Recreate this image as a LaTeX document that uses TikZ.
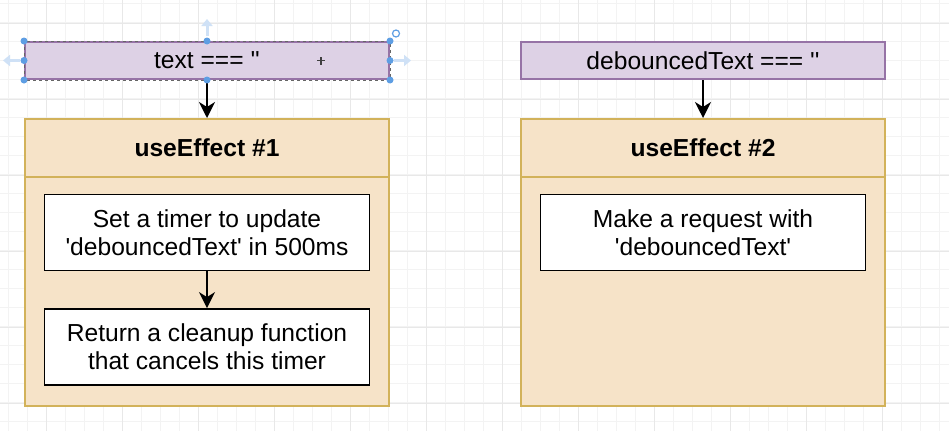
\documentclass[tikz,border=0pt]{standalone}
\usepackage{fontspec}
\setmainfont{Liberation Sans}
\usetikzlibrary{arrows.meta}
\definecolor{purfill}{HTML}{DDD1E5}
\definecolor{purline}{HTML}{9673A6}
\definecolor{tanfill}{HTML}{F6E3C8}
\definecolor{tanline}{HTML}{D2B25A}
\definecolor{gridminor}{HTML}{F3F3F3}
\definecolor{gridmajor}{HTML}{E8E8E8}
\definecolor{handle}{HTML}{5E9EE3}
\definecolor{handlelight}{HTML}{CFE1F6}
\tikzset{
  txt/.style={font=\fontsize{24.6}{28.3}\selectfont, align=center, text=black},
  condbox/.style={txt, draw=purline, fill=purfill, line width=2pt, minimum width=364pt, minimum height=37pt, inner sep=0pt},
  hdrbox/.style={txt, font=\fontsize{24.6}{28.3}\selectfont\bfseries, draw=tanline, fill=tanfill, line width=2pt, minimum width=364pt, minimum height=58pt, inner sep=0pt},
  bodybox/.style={draw=tanline, fill=tanfill, line width=2pt, minimum width=364pt, minimum height=287pt, inner sep=0pt},
  stepbox/.style={txt, draw=black, fill=white, line width=1.8pt, minimum width=325pt, minimum height=76pt, inner sep=0pt},
  arr/.style={line width=1.8pt, -{Stealth[length=16pt,width=16pt,inset=5pt]}},
  hdot/.style={circle, fill=handle, minimum size=7pt, inner sep=0pt},
  harrow/.style={line width=3pt, draw=handlelight, -{Triangle[length=7pt,width=11pt]}},
}
\begin{document}
\begin{tikzpicture}[x=1pt,y=-1pt]
\useasboundingbox[fill=white] (0,0) rectangle (949,431);
% grid
\foreach \i in {0,...,49} \draw[gridminor, line width=0.8pt] ({8+19*\i},0) -- ({8+19*\i},431);
\foreach \j in {0,...,22} \draw[gridminor, line width=0.8pt] (0,{3.7+19*\j}) -- (949,{3.7+19*\j});
\foreach \i in {0,...,11} \draw[gridmajor, line width=0.9pt] ({46+76*\i},0) -- ({46+76*\i},431);
\foreach \j in {0,...,5} \draw[gridmajor, line width=0.9pt] (0,{23+76*\j}) -- (949,{23+76*\j});

% left column
\node[condbox] (cond1) at (207,60.5) {text === \textquotesingle\textquotesingle};
\draw[black!60, dashed, line width=0.6pt, dash pattern=on 3pt off 3pt] (cond1.north west) rectangle (cond1.south east);
\node[bodybox, anchor=north] (body1) at (207,118) {};
\node[hdrbox, anchor=north] (hdr1) at (207,118) {useEffect \#1};
\node[stepbox] (step1) at (207,232.5) {Set a timer to update\\\textquotesingle debouncedText\textquotesingle\ in 500ms};
\node[stepbox] (step2) at (207,347) {Return a cleanup function\\that cancels this timer};

% right column
\node[condbox] (cond2) at (703,60.5) {debouncedText === \textquotesingle\textquotesingle};
\node[bodybox, anchor=north] (body2) at (703,118) {};
\node[hdrbox, anchor=north] (hdr2) at (703,118) {useEffect \#2};
\node[stepbox] (step3) at (703,232.5) {Make a request with\\\textquotesingle debouncedText\textquotesingle};

% connectors
\draw[arr] (cond1) -- (hdr1);
\draw[arr] (step1) -- (step2);
\draw[arr] (cond2) -- (hdr2);

% selection handles
\coordinate (upA) at (207,36);
\coordinate (upB) at (207,19);
\coordinate (lfA) at (20,60.5);
\coordinate (lfB) at (3,60.5);
\coordinate (rtA) at (394,60.5);
\coordinate (rtB) at (411,60.5);
\draw[harrow] (upA) -- (upB);
\draw[harrow] (lfA) -- (lfB);
\draw[harrow] (rtA) -- (rtB);
\foreach \a in {north west,north,north east,west,east,south west,south,south east}
  \node[hdot] at (cond1.\a) {};
\node[circle, draw=handle, line width=1.2pt, minimum size=7pt, inner sep=0pt] (rot) at (396,33.5) {};
\coordinate (cx) at (321,60.5);
\draw[black!75, line width=1.3pt] ([xshift=-4pt]cx) -- ([xshift=4pt]cx) ([yshift=-4pt]cx) -- ([yshift=4pt]cx);
\end{tikzpicture}
\end{document}
